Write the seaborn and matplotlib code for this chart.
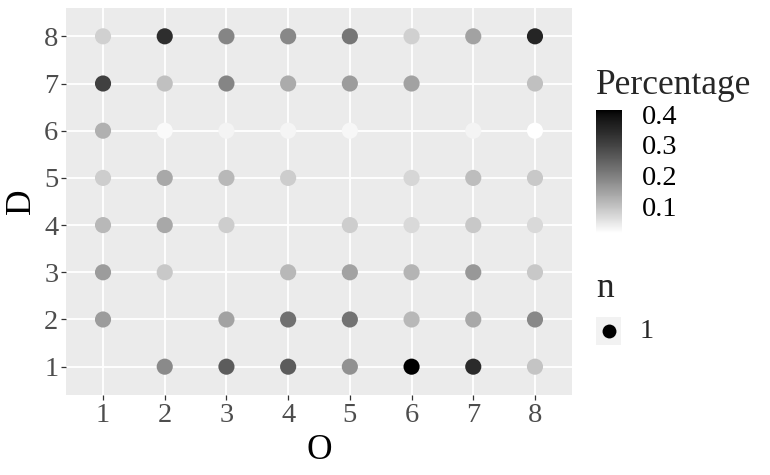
import numpy as np
import pandas as pd
import matplotlib
matplotlib.use("Agg")
import matplotlib.pyplot as plt
from matplotlib.colors import ListedColormap, Normalize
from matplotlib.colorbar import ColorbarBase
import seaborn as sns

# data: one point per (O, D) cell that has a value
o_vals = [1, 2, 3, 4, 5, 6, 7, 8,
          1, 2, 3, 4, 5, 6, 8,
          1, 2, 3, 4, 5, 7, 8,
          1, 2, 3, 4, 6, 7, 8,
          1, 2, 3, 5, 6, 7, 8,
          1, 2, 4, 5, 6, 7, 8,
          1, 3, 4, 5, 6, 7, 8,
          2, 3, 4, 5, 6, 7, 8]
d_vals = [8] * 8 + [7] * 7 + [6] * 7 + [5] * 7 + [4] * 7 + [3] * 7 + [2] * 7 + [1] * 7
pct = [0.081, 0.338, 0.192, 0.187, 0.214, 0.081, 0.148, 0.355,
       0.305, 0.104, 0.192, 0.136, 0.157, 0.148, 0.104,
       0.127, 0.022, 0.032, 0.029, 0.026, 0.032, 0.015,
       0.086, 0.139, 0.115, 0.086, 0.074, 0.109, 0.092,
       0.115, 0.139, 0.086, 0.086, 0.069, 0.092, 0.069,
       0.157, 0.092, 0.115, 0.148, 0.121, 0.163, 0.092,
       0.157, 0.148, 0.225, 0.222, 0.115, 0.139, 0.187,
       0.184, 0.257, 0.257, 0.175, 0.413, 0.343, 0.098]
n_vals = [1] * len(pct)
ticks = [1, 2, 3, 4, 5, 6, 7, 8]
cbar_ticks = [0.1, 0.2, 0.3, 0.4]

df = pd.DataFrame({"O": o_vals, "D": d_vals, "Percentage": pct, "n": n_vals})

# white -> black gradient interpolated in Lab lightness (like ggplot)
L = np.linspace(100, 0, 256)
fy = (L + 16) / 116
Y = np.where(fy > 6 / 29, fy ** 3, 3 * (6 / 29) ** 2 * (fy - 4 / 29))
g = np.where(Y <= 0.0031308, 12.92 * Y, 1.055 * Y ** (1 / 2.4) - 0.055)
g = np.clip(g, 0, 1)
cmap = ListedColormap(np.column_stack([g, g, g]))
norm = Normalize(vmin=min(pct), vmax=max(pct))

sns.set_theme(style="darkgrid", rc={
    "axes.facecolor": "#ebebeb",
    "grid.color": "white",
    "grid.linewidth": 1.3,
    "axes.edgecolor": "#ebebeb",
})
plt.rcParams["font.family"] = ["Liberation Serif", "DejaVu Serif"]

TICK = 20.5
TITLE = 25.5

fig = plt.figure(figsize=(7.7, 4.75), dpi=100)
ax = fig.add_axes([66 / 770, 1 - 395 / 475, 506 / 770, 387 / 475])

sns.scatterplot(data=df, x="O", y="D", hue="Percentage", palette=cmap,
                hue_norm=norm, s=135, linewidth=0, legend=False, ax=ax)

ax.set_xlim(0.4, 8.6)
ax.set_ylim(0.4, 8.6)
ax.set_xticks(ticks)
ax.set_yticks(ticks)
ax.grid(True, which="major")
for s in ax.spines.values():
    s.set_visible(False)
ax.tick_params(axis="both", length=3.5, width=0.9, color="#333333",
               labelcolor="#4d4d4d", labelsize=TICK, pad=2,
               bottom=True, left=True)
ax.set_xlabel("O", fontsize=TITLE, color="black", labelpad=4.5)
ax.set_ylabel("D", fontsize=TITLE, color="black", labelpad=4)

# colour bar legend
cax = fig.add_axes([596 / 770, 1 - 233 / 475, 26 / 770, 123 / 475])
cb = ColorbarBase(cax, cmap=cmap, norm=norm, orientation="vertical")
cb.outline.set_visible(False)
cb.set_ticks(cbar_ticks)
cax.tick_params(direction="in", length=4, width=0.8, color="white",
                left=True, right=True, labelleft=False, labelright=True,
                labelsize=TICK, labelcolor="black", pad=14)
fig.text(596 / 770, 1 - 94 / 475, "Percentage", fontsize=TITLE,
         ha="left", va="baseline")

# size legend (single key)
fig.text(596 / 770, 1 - 297 / 475, "n", fontsize=TITLE, ha="left", va="baseline")
kax = fig.add_axes([596 / 770, 1 - 345 / 475, 25 / 770, 28 / 475])
kax.set_facecolor("#f2f2f2")
kax.scatter([0], [0], s=100, color="black", linewidth=0)
kax.set_xlim(-1, 1)
kax.set_ylim(-1, 1)
kax.set_xticks([])
kax.set_yticks([])
kax.grid(False)
for s in kax.spines.values():
    s.set_visible(False)
fig.text(640 / 770, 1 - 331 / 475, "1", fontsize=TICK, ha="left", va="center")

fig.savefig("out.png", dpi=100)
